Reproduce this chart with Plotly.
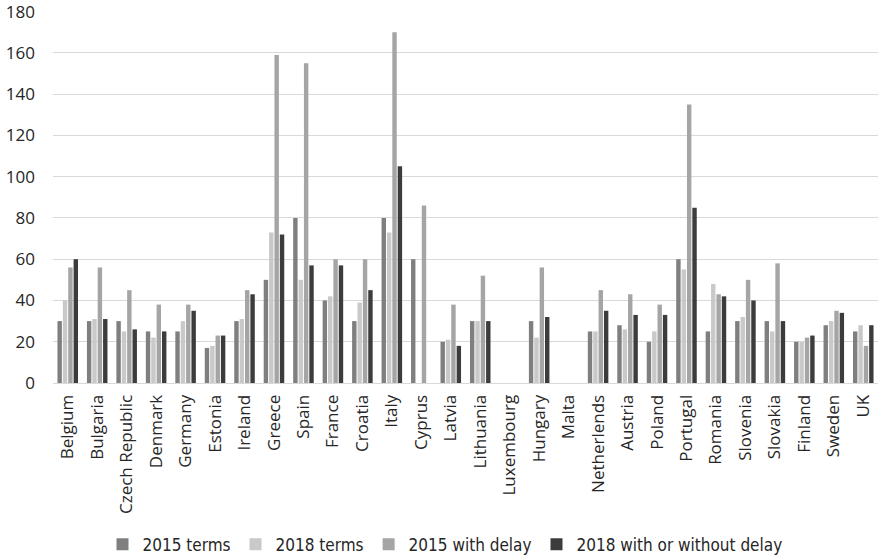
import plotly.graph_objects as go

countries = ["Belgium", "Bulgaria", "Czech Republic", "Denmark", "Germany", "Estonia", "Ireland",
             "Greece", "Spain", "France", "Croatia", "Italy", "Cyprus", "Latvia", "Lithuania",
             "Luxembourg", "Hungary", "Malta", "Netherlends", "Austria", "Poland", "Portugal",
             "Romania", "Slovenia", "Slovakia", "Finland", "Sweden", "UK"]

terms_2015 = [30, 30, 30, 25, 25, 17, 30, 50, 80, 40, 30, 80, 60, 20, 30, None, 30, None,
              25, 28, 20, 60, 25, 30, 30, 20, 28, 25]
terms_2018 = [40, 31, 25, 22, 30, 18, 31, 73, 50, 42, 39, 73, None, 21, 30, None, 22, None,
              25, 26, 25, 55, 48, 32, 25, 20, 30, 28]
delay_2015 = [56, 56, 45, 38, 38, 23, 45, 159, 155, 60, 60, 170, 86, 38, 52, None, 56, None,
              45, 43, 38, 135, 43, 50, 58, 22, 35, 18]
delay_2018 = [60, 31, 26, 25, 35, 23, 43, 72, 57, 57, 45, 105, None, 18, 30, None, 32, None,
              35, 33, 33, 85, 42, 40, 30, 23, 34, 28]
y_ticks = [0, 20, 40, 60, 80, 100, 120, 140, 160, 180]

series = [
    ("2015 terms", terms_2015, "#7f7f7f"),
    ("2018 terms", terms_2018, "#c9c9c9"),
    ("2015 with delay", delay_2015, "#a5a5a5"),
    ("2018 with or without delay", delay_2018, "#3c3c3c"),
]

fig = go.Figure()
for name, vals, color in series:
    fig.add_trace(go.Bar(x=countries, y=vals, name=name, marker=dict(color=color, line=dict(width=0))))

fig.update_layout(
    width=883, height=558,
    margin=dict(l=53, r=5, t=11, b=175, autoexpand=False),
    paper_bgcolor="white", plot_bgcolor="white",
    barmode="group", bargap=0.27, bargroupgap=0.18,
    font=dict(family="Open Sans, DejaVu Sans, sans-serif", size=14, color="#262626"),
    yaxis=dict(range=[0, 180.3], tickvals=y_ticks, ticktext=[str(v) for v in y_ticks],
               showgrid=True, gridcolor="#d9d9d9", gridwidth=1,
               zeroline=True, zerolinecolor="#d9d9d9", zerolinewidth=1, ticks="",
               ticklabelstandoff=17, automargin=False, ticklabeloverflow="allow",
               tickfont=dict(size=17, color="#262626"), showline=False),
    xaxis=dict(tickangle=-90, tickfont=dict(size=17, color="#262626"), showline=True,
               linecolor="#d9d9d9", linewidth=1, ticks="", automargin=False,
               ticklabelstandoff=4),
    legend=dict(orientation="h", x=0.06, xanchor="left", y=-0.435, yanchor="middle",
                font=dict(family="DejaVu Sans Condensed, Liberation Sans Narrow, Roboto, sans-serif",
                          size=17, color="#262626"),
                traceorder="normal", itemwidth=30),
)

fig.write_html("out.html", config={"displayModeBar": False},
               post_script="document.body.style.margin='0';")
